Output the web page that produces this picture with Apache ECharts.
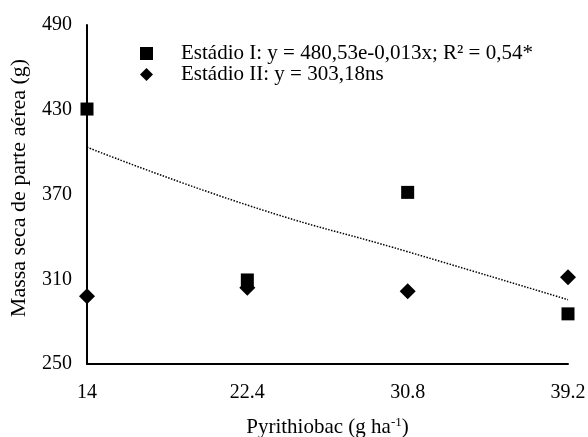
<!DOCTYPE html>
<html>
<head>
<meta charset="utf-8">
<script src="https://cdn.jsdelivr.net/npm/echarts@6/dist/echarts.min.js"></script>
<style>
  html, body { margin: 0; padding: 0; background: #fff; }
  #main { width: 588px; height: 437px; }
</style>
</head>
<body>
<div id="main"></div>
<script>
// doses de pyrithiobac (g ha-1)
var doses = [14, 22.4, 30.8, 39.2];
var estadioI = [430.5, 309.5, 371.5, 285.5];
var estadioII = [298, 304, 301.5, 311.5];
// linha de tendência
var trendX = [14, 22.4, 30.8, 39.2];
var trendY = [403.5, 362.5, 329.5, 295.5];
var yTicks = { min: 250, max: 490, step: 60 };

var font = 'Liberation Serif';
var chart = echarts.init(document.getElementById('main'));

function pairs(xs, ys) {
  return xs.map(function (x, i) { return [x, ys[i]]; });
}

chart.setOption({
  animation: false,
  backgroundColor: '#fff',
  grid: { left: 87, right: 20, top: 25, bottom: 73, outerBoundsMode: 'none', containLabel: false },
  legend: {
    orient: 'vertical',
    left: 135,
    top: 38,
    itemWidth: 13,
    itemHeight: 13,
    itemGap: 0,
    data: [
      { name: 'Estádio I: y = 480,53e-0,013x; R² = 0,54*', icon: 'rect', itemStyle: { color: '#000', opacity: 1 } },
      { name: 'Estádio II: y = 303,18ns', icon: 'diamond', itemStyle: { color: '#000', opacity: 1 } }
    ],
    textStyle: { fontFamily: font, fontSize: 21, lineHeight: 20, color: '#000', padding: [0, 0, 0, 23] }
  },
  xAxis: {
    type: 'value',
    min: 14,
    max: 39.2,
    interval: 8.4,
    name: 'Pyrithiobac (g ha{sup|-1})',
    nameLocation: 'middle',
    nameGap: 52,
    nameTextStyle: {
      fontFamily: font, fontSize: 21, color: '#000',
      rich: { sup: { fontFamily: font, fontSize: 13, color: '#000', verticalAlign: 'top', padding: [0, 0, 10, 0] } }
    },
    axisLine: { lineStyle: { color: '#000', width: 2 } },
    axisTick: { show: false },
    splitLine: { show: false },
    axisLabel: {
      margin: 19,
      fontFamily: font, fontSize: 20, color: '#000',
      formatter: function (v) { return String(Math.round(v * 10) / 10); }
    }
  },
  yAxis: {
    type: 'value',
    min: yTicks.min,
    max: yTicks.max,
    interval: yTicks.step,
    axisLine: { show: true, lineStyle: { color: '#000', width: 2 } },
    axisTick: { show: false },
    splitLine: { show: false },
    axisLabel: { margin: 15, fontFamily: font, fontSize: 20, color: '#000' }
  },
  graphic: [{
    type: 'text',
    rotation: Math.PI / 2,
    x: 19, y: 188,
    style: {
      text: 'Massa seca de parte aérea (g)',
      fontFamily: font, fontSize: 22, fill: '#000',
      align: 'center', verticalAlign: 'middle'
    }
  }],
  series: [
    {
      type: 'line',
      data: pairs(trendX, trendY),
      smooth: true,
      showSymbol: false,
      silent: true,
      lineStyle: { color: '#000', width: 1.5, type: [1.5, 1.5] },
      z: 1
    },
    {
      name: 'Estádio I: y = 480,53e-0,013x; R² = 0,54*',
      type: 'scatter',
      symbol: 'rect',
      symbolSize: 13,
      data: pairs(doses, estadioI),
      itemStyle: { color: '#000', opacity: 1 },
      z: 3
    },
    {
      name: 'Estádio II: y = 303,18ns',
      type: 'scatter',
      symbol: 'diamond',
      symbolSize: 16,
      data: pairs(doses, estadioII),
      itemStyle: { color: '#000', opacity: 1 },
      z: 4
    }
  ]
});
</script>
</body>
</html>
